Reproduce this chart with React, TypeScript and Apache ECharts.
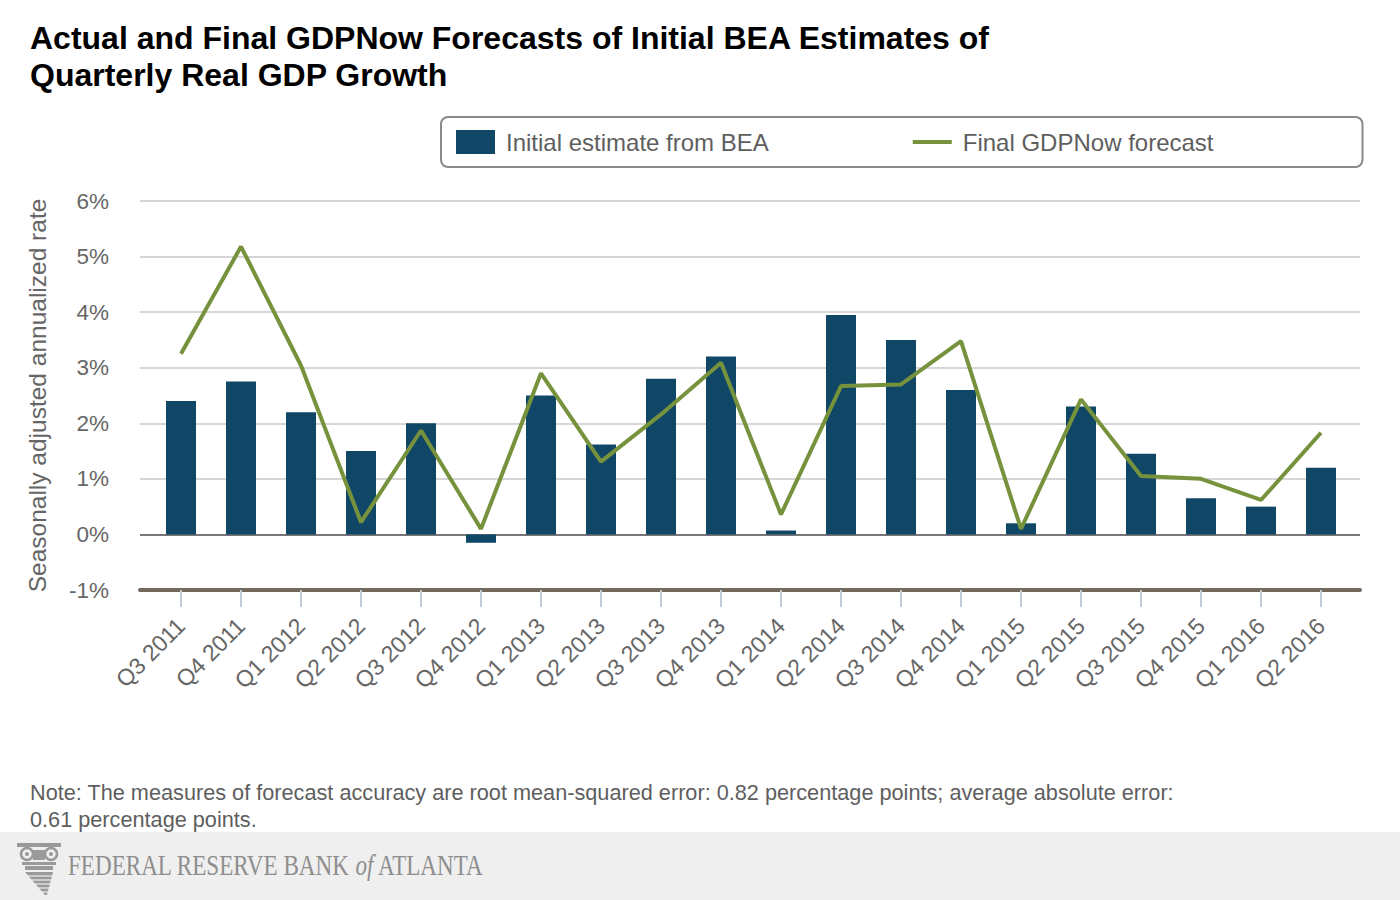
import React, { useEffect, useRef } from "react";
import * as echarts from "echarts";

const categories = [
  "Q3 2011", "Q4 2011", "Q1 2012", "Q2 2012", "Q3 2012", "Q4 2012",
  "Q1 2013", "Q2 2013", "Q3 2013", "Q4 2013", "Q1 2014", "Q2 2014",
  "Q3 2014", "Q4 2014", "Q1 2015", "Q2 2015", "Q3 2015", "Q4 2015",
  "Q1 2016", "Q2 2016",
];
const beaInitial = [2.4, 2.75, 2.2, 1.5, 2.0, -0.15, 2.5, 1.62, 2.8, 3.2, 0.07, 3.95, 3.5, 2.6, 0.2, 2.3, 1.45, 0.65, 0.5, 1.2];
const gdpNowFinal = [3.25, 5.18, 3.04, 0.22, 1.87, 0.1, 2.9, 1.31, 2.16, 3.09, 0.36, 2.67, 2.7, 3.48, 0.1, 2.43, 1.05, 1.0, 0.62, 1.83];
const yTicks = { min: -1, max: 6, interval: 1 };

const titleText = "Actual and Final GDPNow Forecasts of Initial BEA Estimates of\nQuarterly Real GDP Growth";
const noteText = "Note: The measures of forecast accuracy are root mean-squared error: 0.82 percentage points; average absolute error:\n0.61 percentage points.";
const yAxisName = "Seasonally adjusted annualized rate";
const barName = "Initial estimate from BEA";
const lineName = "Final GDPNow forecast";

const FONT = "'Liberation Sans', Arial, sans-serif";
const SERIF = "'Liberation Serif', 'Times New Roman', serif";
const BAR_COLOR = "#104766";
const LINE_COLOR = "#77923d";
const LABEL_COLOR = "#666666";

export default function App() {
  const ref = useRef<HTMLDivElement>(null);
  useEffect(() => {
    if (!ref.current) return;
    const chart = echarts.init(ref.current, null, { renderer: "svg" });
    const logoGray = "#9a9a9a";
    chart.setOption({
      animation: false,
      backgroundColor: "#ffffff",
      textStyle: { fontFamily: FONT },
      title: {
        text: titleText,
        left: 30,
        top: 19,
        padding: 0,
        textStyle: { fontFamily: FONT, fontSize: 32, fontWeight: "bold", color: "#000", lineHeight: 37 },
      },
      legend: {
        left: 441,
        top: 117,
        padding: [13, 149, 13, 15],
        itemGap: 142,
        itemWidth: 39,
        itemHeight: 24,
        borderColor: "#8a8a8a",
        borderWidth: 2,
        borderRadius: 7,
        textStyle: { fontFamily: FONT, fontSize: 24, color: "#5e5e5e", padding: [0, 0, 0, 6] },
        data: [
          { name: barName, icon: "rect" },
          { name: lineName, itemStyle: { opacity: 0 }, lineStyle: { color: LINE_COLOR, width: 4 } },
        ],
      },
      grid: [
        { left: 140, right: 40, top: 201, bottom: 310 },
        { left: 151, right: 49, top: 201, bottom: 310 },
      ],
      xAxis: [
        {
          gridIndex: 0,
          type: "value",
          min: 0,
          max: 1,
          axisLine: { show: true, onZero: false, lineStyle: { color: "#75685c", width: 4 } },
          axisTick: { show: false },
          axisLabel: { show: false },
          splitLine: { show: false },
        },
        {
          gridIndex: 1,
          type: "category",
          data: categories,
          position: "bottom",
          axisLine: { show: false, onZero: false },
          axisTick: { show: true, alignWithLabel: true, length: 17, lineStyle: { color: "#c0ccd8", width: 2 } },
          axisLabel: { rotate: 45, fontSize: 23, color: LABEL_COLOR, fontFamily: FONT, margin: 32, interval: 0 },
          splitLine: { show: false },
        },
      ],
      yAxis: [
        {
          gridIndex: 0,
          type: "value",
          min: yTicks.min,
          max: yTicks.max,
          interval: yTicks.interval,
          name: yAxisName,
          nameLocation: "middle",
          nameGap: 90,
          nameTextStyle: { fontFamily: FONT, fontSize: 24.5, color: LABEL_COLOR },
          axisLine: { show: false },
          axisTick: { show: false },
          axisLabel: { formatter: "{value}%", fontSize: 22.5, color: LABEL_COLOR, fontFamily: FONT, margin: 31 },
          splitLine: {
            show: true,
            lineStyle: {
              width: 2,
              color: ["#75685c", "#777777", "#d6d6d6", "#d6d6d6", "#d6d6d6", "#d6d6d6", "#d6d6d6", "#d6d6d6"],
            },
          },
        },
        {
          gridIndex: 1,
          type: "value",
          min: yTicks.min,
          max: yTicks.max,
          interval: yTicks.interval,
          show: false,
        },
      ],
      series: [
        {
          name: barName,
          type: "bar",
          xAxisIndex: 1,
          yAxisIndex: 1,
          data: beaInitial,
          barWidth: 30,
          itemStyle: { color: BAR_COLOR },
        },
        {
          name: lineName,
          type: "line",
          xAxisIndex: 1,
          yAxisIndex: 1,
          data: gdpNowFinal,
          symbol: "none",
          showSymbol: false,
          lineStyle: { color: LINE_COLOR, width: 4 },
          itemStyle: { color: LINE_COLOR },
        },
      ],
      graphic: [
        {
          type: "text",
          left: 30,
          top: 779,
          style: { text: noteText, fontFamily: FONT, fontSize: 21.7, lineHeight: 27, fill: "#5e5e5e" },
        },
        {
          type: "rect",
          left: 0,
          top: 832,
          shape: { width: 1400, height: 68 },
          style: { fill: "#efefef" },
          z: -1,
        },
        {
          type: "group",
          left: 17,
          top: 843,
          children: [
            { type: "rect", shape: { x: 0, y: 0, width: 44, height: 4 }, style: { fill: logoGray } },
            { type: "circle", shape: { cx: 10, cy: 11, r: 6 }, style: { fill: "none", stroke: logoGray, lineWidth: 2.5 } },
            { type: "circle", shape: { cx: 34, cy: 11, r: 6 }, style: { fill: "none", stroke: logoGray, lineWidth: 2.5 } },
            { type: "circle", shape: { cx: 10, cy: 11, r: 2 }, style: { fill: logoGray } },
            { type: "circle", shape: { cx: 34, cy: 11, r: 2 }, style: { fill: logoGray } },
            { type: "rect", shape: { x: 16, y: 7, width: 12, height: 10 }, style: { fill: logoGray } },
            { type: "rect", shape: { x: 5, y: 19, width: 34, height: 3 }, style: { fill: logoGray } },
            { type: "rect", shape: { x: 8, y: 23, width: 28, height: 4 }, style: { fill: logoGray } },
            { type: "polygon", shape: { points: [[8, 29], [36, 29], [30, 52], [28, 52]] }, style: { fill: logoGray } },
            { type: "line", shape: { x1: 8, y1: 33, x2: 36, y2: 33 }, style: { stroke: "#efefef", lineWidth: 1.2 } },
            { type: "line", shape: { x1: 8, y1: 37, x2: 36, y2: 37 }, style: { stroke: "#efefef", lineWidth: 1.2 } },
            { type: "line", shape: { x1: 8, y1: 41, x2: 36, y2: 41 }, style: { stroke: "#efefef", lineWidth: 1.2 } },
            { type: "line", shape: { x1: 8, y1: 45, x2: 36, y2: 45 }, style: { stroke: "#efefef", lineWidth: 1.2 } },
            { type: "line", shape: { x1: 8, y1: 49, x2: 36, y2: 49 }, style: { stroke: "#efefef", lineWidth: 1.2 } },
          ],
        },
        {
          type: "text",
          x: 68,
          y: 865,
          scaleX: 0.77,
          style: {
            text: "{a|FEDERAL RESERVE BANK }{b|of}{a| ATLANTA}",
            verticalAlign: "middle",
            rich: {
              a: { fontFamily: SERIF, fontSize: 30, fill: "#8e8e8e" },
              b: { fontFamily: SERIF, fontSize: 30, fontStyle: "italic", fill: "#8e8e8e" },
            },
          },
        },
      ],
    });
    return () => chart.dispose();
  }, []);
  return <div ref={ref} style={{ position: "fixed", left: 0, top: 0, width: 1400, height: 900 }} />;
}
